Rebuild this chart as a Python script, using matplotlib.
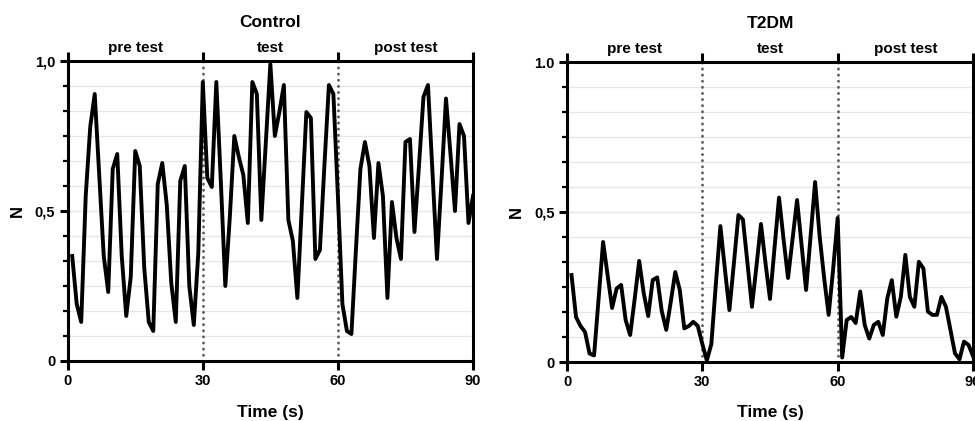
import matplotlib
matplotlib.use('Agg')
import matplotlib.pyplot as plt
from matplotlib.ticker import FixedLocator

plt.rcParams['font.family'] = ['Liberation Sans', 'DejaVu Sans']

# ---------------- data ----------------
time_s = list(range(1, 91))

control = [0.35, 0.19, 0.13, 0.55, 0.78, 0.89, 0.62, 0.35, 0.23, 0.64,
           0.69, 0.35, 0.15, 0.28, 0.70, 0.65, 0.31, 0.13, 0.10, 0.59,
           0.66, 0.52, 0.26, 0.13, 0.60, 0.65, 0.25, 0.12, 0.36, 0.93,
           0.61, 0.58, 0.93, 0.60, 0.25, 0.48, 0.75, 0.68, 0.62, 0.46,
           0.93, 0.89, 0.47, 0.73, 0.99, 0.75, 0.83, 0.92, 0.47, 0.40,
           0.21, 0.52, 0.83, 0.81, 0.34, 0.37, 0.65, 0.92, 0.89, 0.55,
           0.19, 0.10, 0.09, 0.37, 0.64, 0.73, 0.65, 0.41, 0.66, 0.55,
           0.21, 0.53, 0.41, 0.34, 0.73, 0.74, 0.43, 0.65, 0.88, 0.92,
           0.63, 0.34, 0.60, 0.875, 0.69, 0.50, 0.79, 0.75, 0.46, 0.55]

t2dm = [0.29, 0.15, 0.12, 0.10, 0.028, 0.022, 0.21, 0.40, 0.29, 0.18,
        0.245, 0.257, 0.14, 0.09, 0.21, 0.337, 0.23, 0.153, 0.273, 0.282,
        0.17, 0.107, 0.20, 0.30, 0.24, 0.112, 0.12, 0.134, 0.12, 0.06,
        0.005, 0.06, 0.26, 0.453, 0.31, 0.173, 0.33, 0.49, 0.475, 0.33,
        0.184, 0.32, 0.46, 0.33, 0.21, 0.38, 0.548, 0.41, 0.28, 0.41,
        0.54, 0.39, 0.24, 0.42, 0.60, 0.42, 0.28, 0.157, 0.31, 0.48,
        0.015, 0.14, 0.15, 0.13, 0.235, 0.123, 0.078, 0.123, 0.134, 0.09,
        0.212, 0.273, 0.151, 0.217, 0.357, 0.217, 0.184, 0.334, 0.312, 0.168,
        0.157, 0.157, 0.217, 0.184, 0.107, 0.029, 0.009, 0.068, 0.057, 0.02]

titles = ['Control', 'T2DM']
phase_labels = ['pre test', 'test', 'post test']
phase_centers = [15, 45, 75]
phase_bounds = [30, 60]
x_ticks = [0, 30, 60, 90]
y_ticks = [0, 0.5, 1.0]
control_ylabels = ['0', '0,5', '1,0']
t2dm_ylabels = ['0', '0,5', '1.0']
minor_y = [k / 12 for k in range(1, 12)]

# ---------------- figure ----------------
W, H = 975, 421
fig = plt.figure(figsize=(W / 100, H / 100), dpi=100)
ax1 = fig.add_axes([67.7 / W, 60 / H, 405.3 / W, 300 / H])
ax2 = fig.add_axes([567 / W, 59 / H, 406 / W, 300 / H])

panels = [(ax1, control, titles[0], control_ylabels),
          (ax2, t2dm, titles[1], t2dm_ylabels)]

for ax, vals, title, ylabels in panels:
    ax.set_xlim(0, 90)
    ax.set_ylim(0, 1.0)
    for k in minor_y:
        ax.axhline(k, color='#e6e6e6', lw=0.9, zorder=0)
    for b in phase_bounds:
        ax.axvline(b, color='#5a5a5a', lw=2.0, linestyle=(0, (0.1, 2.1)),
                   dash_capstyle='round', zorder=2)
    ax.plot(time_s, vals, color='black', lw=2.8, zorder=3)

    for sp in ax.spines.values():
        sp.set_linewidth(2.2)
        sp.set_color('black')

    ax.set_xticks(x_ticks)
    ax.set_xticklabels([str(v) for v in x_ticks])
    ax.set_yticks(y_ticks)
    ax.set_yticklabels(ylabels)
    ax.yaxis.set_minor_locator(FixedLocator(minor_y))
    ax.tick_params(axis='x', which='major', direction='out', length=6.5,
                   width=2.2, top=True, bottom=True, labeltop=False,
                   pad=3, labelsize=10.5)
    ax.tick_params(axis='y', which='major', direction='out', length=6,
                   width=2.2, right=False, pad=3, labelsize=10.5)
    ax.tick_params(axis='y', which='minor', direction='out', length=3.5,
                   width=1.6, right=False)
    for lab in ax.get_xticklabels() + ax.get_yticklabels():
        lab.set_fontweight('bold')

    ax.text(0.5, 1.127, title, transform=ax.transAxes, ha='center',
            va='center', fontsize=12.5, fontweight='bold')
    for c, lab in zip(phase_centers, phase_labels):
        ax.text(c, 1.043, lab, transform=ax.get_xaxis_transform(),
                ha='center', va='center', fontsize=11, fontweight='bold')
    ax.text(0.5, -0.17, 'Time (s)', transform=ax.transAxes, ha='center',
            va='center', fontsize=12.5, fontweight='bold')
    ax.text(-0.125, 0.5, 'N', transform=ax.transAxes, ha='center',
            va='center', rotation=90, fontsize=12, fontweight='bold')

fig.savefig('out.png', dpi=100)
